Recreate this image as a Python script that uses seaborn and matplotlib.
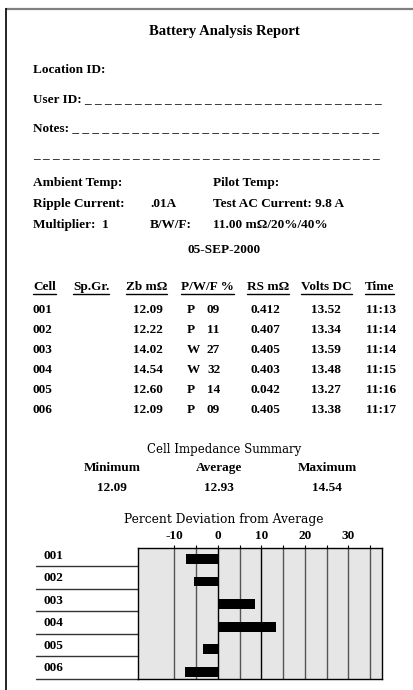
import numpy as np
import pandas as pd
import matplotlib
matplotlib.use("Agg")
import matplotlib.pyplot as plt
import matplotlib.transforms as mtransforms
import seaborn as sns

# --- report data ---
cells = ["001", "002", "003", "004", "005", "006"]
zb_mohm = [12.09, 12.22, 14.02, 14.54, 12.60, 12.09]
pwf_flag = ["P", "P", "W", "W", "P", "P"]
pwf_pct = [9, 11, 27, 32, 14, 9]
rs_mohm = [0.412, 0.407, 0.405, 0.403, 0.042, 0.405]
volts_dc = [13.52, 13.34, 13.59, 13.48, 13.27, 13.38]
times = ["11:13", "11:14", "11:14", "11:15", "11:16", "11:17"]
summary_labels = ["Minimum", "Average", "Maximum"]
summary_values = [12.09, 12.93, 14.54]
# percent deviation from average
deviation = [-7.4, -5.5, 8.6, 13.3, -3.4, -7.5]
dev_ticks = [-10, 0, 10, 20, 30]

sns.set_theme(style="white")
plt.rcParams["font.family"] = ["Liberation Serif", "DejaVu Serif"]
plt.rcParams["text.color"] = "black"
plt.rcParams["xtick.color"] = "black"
plt.rcParams["xtick.labelcolor"] = "black"

W, H = 414, 690
fig = plt.figure(figsize=(W / 100, H / 100), dpi=100)

# background axes in pixel coordinates for the text part of the report
bg = fig.add_axes([0, 0, 1, 1])
bg.set_xlim(0, W)
bg.set_ylim(H, 0)
bg.axis("off")

fs = 9.5
kw = dict(fontsize=fs, fontweight="bold", va="center", ha="left")

# page border (top and left edge visible)
bg.plot([6, W], [8.5, 8.5], color="#808080", lw=1.6, solid_capstyle="butt")
bg.plot([6.5, 6.5], [8, H], color="black", lw=1.2, solid_capstyle="butt")

bg.text(224, 31, "Battery Analysis Report", fontsize=10.5, fontweight="bold",
        ha="center", va="center")
bg.text(33, 70, "Location ID:", **kw)
bg.text(33, 99, "User ID: " + "_ " * 30, **kw)
bg.text(33, 128, "Notes: " + "_ " * 31, **kw)
bg.text(33, 154, "_ " * 35, **kw)

bg.text(33, 183, "Ambient Temp:", **kw)
bg.text(213, 183, "Pilot Temp:", **kw)
bg.text(33, 204, "Ripple Current:", **kw)
bg.text(150, 204, ".01A", **kw)
bg.text(213, 204, "Test AC Current: 9.8 A", **kw)
bg.text(33, 225, "Multiplier:  1", **kw)
bg.text(150, 225, "B/W/F:", **kw)
bg.text(213, 225, "11.00 m\u03a9/20%/40%", **kw)

bg.text(224, 250, "05-SEP-2000", fontsize=fs, fontweight="bold", ha="center", va="center")

# table header, underlined
headers = ["Cell", "Sp.Gr.", "Zb m\u03a9", "P/W/F %", "RS m\u03a9", "Volts DC", "Time"]
header_x = [33, 73, 126, 181, 247, 301, 365]
header_texts = [bg.text(x, 287, h, **kw) for x, h in zip(header_x, headers)]

# table rows
row_y = 310
for i in range(len(cells)):
    y = row_y + 20 * i
    bg.text(33, y, cells[i], **kw)
    bg.text(163, y, f"{zb_mohm[i]:.2f}", fontsize=fs, fontweight="bold", va="center", ha="right")
    bg.text(187, y, pwf_flag[i], **kw)
    bg.text(207, y, f"{pwf_pct[i]:02d}", **kw)
    bg.text(251, y, f"{rs_mohm[i]:.3f}", **kw)
    bg.text(311, y, f"{volts_dc[i]:.2f}", **kw)
    bg.text(366, y, times[i], **kw)

# impedance summary
bg.text(224, 449, "Cell Impedance Summary", fontsize=8.5, family="DejaVu Serif",
        ha="center", va="center")
for x, lab, val in zip([112, 219, 327], summary_labels, summary_values):
    bg.text(x, 468, lab, fontsize=fs, fontweight="bold", ha="center", va="center")
    bg.text(x, 488, f"{val:.2f}", fontsize=fs, fontweight="bold", ha="center", va="center")

bg.text(224, 520, "Percent Deviation from Average", fontsize=8.8, family="DejaVu Serif",
        ha="center", va="center")

# --- deviation bar chart ---
left, right, top, bottom = 138, 382, 548, 679
ax = fig.add_axes([left / W, 1 - bottom / H, (right - left) / W, (bottom - top) / H])
df = pd.DataFrame({"cell": cells, "dev": deviation})
sns.barplot(data=df, x="dev", y="cell", orient="h", color="black", saturation=1,
            width=0.44, ax=ax, zorder=3, linewidth=0)
ax.set_facecolor("#e6e6e6")
px_per_unit = 4.35
ax.set_xlim((left - 218) / px_per_unit, (right - 218) / px_per_unit)
ax.set_ylim(5.33, -0.49)

for v in [-10, -5, 5, 15, 20, 25, 30, 35]:
    ax.axvline(v, color="#555555", lw=1.0, zorder=1)
for v in [0, 10]:
    ax.axvline(v, color="black", lw=1.0, zorder=1)

ax.xaxis.tick_top()
ax.set_xticks(dev_ticks)
ax.set_xticklabels([str(t) for t in dev_ticks], fontsize=fs, fontweight="bold")
ax.set_xticks([-5, 5, 15, 25, 35], minor=True)
ax.tick_params(axis="x", which="both", top=True, bottom=False, length=2, width=0.8,
               pad=2.5, color="black", labelcolor="black")
ax.set_yticks([])
ax.set_xlabel("")
ax.set_ylabel("")
for sp in ax.spines.values():
    sp.set_visible(True)
    sp.set_color("black")
    sp.set_linewidth(1.0)

# row labels and separator lines left of the chart
trans = mtransforms.blended_transform_factory(bg.transData, ax.transData)
for i, c in enumerate(cells):
    ax.text(44, i - 0.15, c, transform=trans, fontsize=fs, fontweight="bold",
            ha="left", va="center", clip_on=False)
    ax.plot([36, left], [i + 0.33, i + 0.33], transform=trans, color="#333333",
            lw=1.0, clip_on=False)

# underline header cells using their rendered extents
fig.canvas.draw()
renderer = fig.canvas.get_renderer()
inv = bg.transData.inverted()
for t in header_texts:
    bb = t.get_window_extent(renderer)
    (x0, _), (x1, _) = inv.transform([[bb.x0, bb.y0], [bb.x1, bb.y1]])
    bg.plot([x0, x1], [294, 294], color="black", lw=1.0)

fig.savefig("out.png", dpi=100)
